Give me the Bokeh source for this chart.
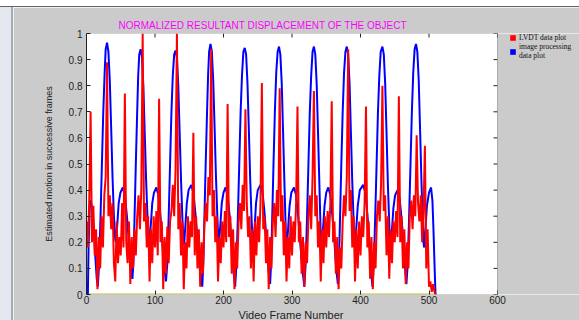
from bokeh.plotting import figure
from bokeh.models import Range1d, FixedTicker, Legend, LegendItem, BoxAnnotation, Title, Spacer
from bokeh.layouts import column, row
from bokeh.embed import file_html
from bokeh.resources import INLINE

title_text = "NORMALIZED RESULTANT DISPLACEMENT OF THE OBJECT"
x_label = "Video Frame Number"
y_label = "Estimated motion in successive frames"
series_names = ["LVDT data plot", "image processing\ndata plot"]

x_ticks = [0, 100, 200, 300, 400, 500, 600]
y_ticks = [0, 0.1, 0.2, 0.3, 0.4, 0.5, 0.6, 0.7, 0.8, 0.9, 1]
y_tick_labels = ["0", "0.1", "0.2", "0.3", "0.4", "0.5", "0.6", "0.7", "0.8", "0.9", "1"]
x_min, x_max = 0, 600
y_min, y_max = 0, 1

# LVDT data (red), one value every 2 frames from frame 0 to 510
lvdt_frames = list(range(0, 512, 2))
lvdt_values = [
    0.28, 0.18, 0.36, 0.70, 0.20, 0.34, 0.15, 0.25, 0.02, 0.22,
    0.10, 0.30, 0.18, 0.38, 0.45, 0.89, 0.30, 0.38, 0.25, 0.35,
    0.12, 0.05, 0.28, 0.12, 0.22, 0.15, 0.35, 0.18, 0.77, 0.20,
    0.12, 0.28, 0.04, 0.22, 0.10, 0.25, 0.15, 0.30, 0.38, 0.25,
    0.40, 1.00, 0.28, 0.35, 0.18, 0.30, 0.05, 0.25, 0.12, 0.30,
    0.18, 0.32, 0.15, 0.75, 0.20, 0.28, 0.02, 0.22, 0.08, 0.26,
    0.12, 0.28, 0.32, 0.42, 0.30, 0.48, 1.00, 0.25, 0.35, 0.15,
    0.28, 0.02, 0.20, 0.10, 0.30, 0.18, 0.28, 0.22, 0.62, 0.15,
    0.30, 0.10, 0.25, 0.03, 0.20, 0.08, 0.26, 0.35, 0.28, 0.45,
    0.38, 0.94, 0.30, 0.40, 0.20, 0.30, 0.05, 0.22, 0.12, 0.28,
    0.18, 0.32, 0.20, 0.73, 0.22, 0.30, 0.08, 0.25, 0.02, 0.20,
    0.10, 0.28, 0.35, 0.25, 0.42, 0.32, 0.71, 0.35, 0.22, 0.30,
    0.10, 0.25, 0.05, 0.28, 0.15, 0.30, 0.20, 0.35, 0.81, 0.25,
    0.30, 0.12, 0.25, 0.02, 0.22, 0.10, 0.28, 0.35, 0.22, 0.40,
    0.30, 0.79, 0.28, 0.38, 0.15, 0.28, 0.05, 0.22, 0.10, 0.30,
    0.15, 0.28, 0.20, 0.35, 0.72, 0.20, 0.28, 0.08, 0.22, 0.03,
    0.20, 0.12, 0.30, 0.38, 0.25, 0.45, 0.78, 0.30, 0.38, 0.18,
    0.28, 0.05, 0.25, 0.12, 0.30, 0.18, 0.32, 0.22, 0.35, 0.74,
    0.20, 0.28, 0.08, 0.22, 0.02, 0.18, 0.10, 0.28, 0.38, 0.30,
    0.45, 0.94, 0.32, 0.40, 0.18, 0.30, 0.05, 0.25, 0.10, 0.28,
    0.15, 0.30, 0.22, 0.35, 0.72, 0.18, 0.28, 0.06, 0.22, 0.02,
    0.20, 0.10, 0.30, 0.36, 0.28, 0.42, 0.80, 0.32, 0.38, 0.15,
    0.30, 0.06, 0.25, 0.12, 0.28, 0.20, 0.32, 0.22, 0.76, 0.20,
    0.30, 0.10, 0.25, 0.04, 0.20, 0.10, 0.30, 0.36, 0.25, 0.38,
    0.30, 0.61, 0.35, 0.28, 0.38, 0.20, 0.32, 0.57, 0.10, 0.25,
    0.03, 0.05, 0.01, 0.04, 0.01, 0.00,
]

# image processing data (blue), read at key frames
ip_frames = [
    0, 2, 3, 5, 7, 9, 11, 13, 15, 16.5,
    18.5, 20.5, 22.5, 24.5, 26.5, 28, 30, 32, 34, 36, 38, 40, 42, 43, 45, 47, 49.5, 53, 56, 59, 62, 64.5, 67,
    68.5, 70, 72, 74, 75.5, 77, 79, 81, 83, 85, 87, 89, 91, 92, 94, 96, 98.5, 102, 105, 108, 111, 113.5, 116,
    118, 120, 122, 124, 126, 128, 130, 132, 134, 136, 138, 140, 141.5, 142.5, 144.5, 146.5, 149, 153, 156, 159, 162, 165, 169,
    170.5, 172, 174, 176, 177.5, 179, 181, 183, 185, 187, 189, 191, 192.5, 193.5, 195.5, 197.5, 200, 203, 206, 209, 212, 214.5, 217,
    219, 221, 223, 225, 227, 229, 231, 233, 235, 237, 239, 241, 242.5, 243.5, 245.5, 247.5, 250, 254, 257, 260, 263, 265.5, 268,
    269.5, 271, 273, 275, 277, 279, 281, 283, 285, 287, 289, 290.5, 291.5, 292.5, 294.5, 296.5, 299, 303, 306, 309, 312, 315, 318,
    320, 322, 324, 326, 328, 330, 332, 334, 336, 338, 340, 341.5, 342.5, 343.5, 345.5, 347.5, 350, 353, 356, 359, 362, 364.5, 367,
    368.5, 370, 372, 374, 376, 378, 380, 382, 384, 386, 388, 390, 391, 392, 394, 396, 399, 404, 407, 410, 413, 415, 417.5,
    419.5, 421.5, 423.5, 425.5, 427.5, 429.5, 432, 434, 436, 438, 440, 442, 443, 444, 446, 448, 450.5, 454, 457, 460, 463, 465, 467,
    469, 471, 473, 475, 477, 479, 481, 483, 485, 487, 489, 491, 492, 493, 495, 497, 500, 503, 505, 506.5, 508, 509.5,
]
ip_values = [
    0.0, 0.0, 0.18, 0.36, 0.35, 0.31, 0.24, 0.14, 0.06, 0.03,
    0.12, 0.30, 0.50, 0.70, 0.85, 0.94, 0.965, 0.93, 0.82, 0.64, 0.45, 0.30, 0.21, 0.20, 0.27, 0.35, 0.39, 0.41, 0.38, 0.30, 0.20, 0.11, 0.06,
    0.12, 0.28, 0.50, 0.70, 0.84, 0.92, 0.94, 0.91, 0.80, 0.62, 0.44, 0.30, 0.21, 0.20, 0.27, 0.35, 0.39, 0.41, 0.38, 0.30, 0.19, 0.10, 0.05,
    0.12, 0.30, 0.50, 0.70, 0.84, 0.92, 0.935, 0.91, 0.80, 0.62, 0.44, 0.29, 0.21, 0.19, 0.27, 0.35, 0.40, 0.42, 0.39, 0.31, 0.21, 0.11, 0.03,
    0.12, 0.28, 0.50, 0.70, 0.84, 0.93, 0.96, 0.93, 0.82, 0.64, 0.45, 0.30, 0.21, 0.20, 0.27, 0.35, 0.39, 0.41, 0.38, 0.30, 0.19, 0.09, 0.03,
    0.12, 0.30, 0.50, 0.70, 0.84, 0.93, 0.945, 0.92, 0.81, 0.63, 0.44, 0.29, 0.20, 0.18, 0.26, 0.35, 0.40, 0.42, 0.39, 0.31, 0.20, 0.10, 0.04,
    0.12, 0.28, 0.50, 0.70, 0.85, 0.93, 0.95, 0.92, 0.81, 0.62, 0.42, 0.28, 0.20, 0.18, 0.26, 0.34, 0.39, 0.41, 0.38, 0.30, 0.20, 0.10, 0.03,
    0.12, 0.30, 0.50, 0.70, 0.84, 0.93, 0.95, 0.92, 0.81, 0.62, 0.42, 0.27, 0.19, 0.17, 0.26, 0.34, 0.39, 0.41, 0.38, 0.30, 0.20, 0.10, 0.04,
    0.12, 0.28, 0.50, 0.70, 0.85, 0.93, 0.95, 0.92, 0.81, 0.62, 0.43, 0.28, 0.20, 0.18, 0.26, 0.34, 0.40, 0.42, 0.39, 0.31, 0.20, 0.10, 0.03,
    0.12, 0.30, 0.50, 0.70, 0.84, 0.93, 0.95, 0.92, 0.81, 0.62, 0.42, 0.27, 0.19, 0.17, 0.25, 0.33, 0.38, 0.40, 0.37, 0.29, 0.19, 0.10, 0.04,
    0.12, 0.30, 0.50, 0.70, 0.85, 0.94, 0.96, 0.93, 0.82, 0.63, 0.43, 0.27, 0.20, 0.18, 0.26, 0.34, 0.39, 0.41, 0.36, 0.25, 0.12, 0.0,
]

# zero reference trace (yellow)
base_frames = [0, 510]
base_values = [0, 0]

FONT = "Liberation Sans"
GREY = "#cbcbcb"
INK = "#222222"
TICK_PX = 4

PAGE_W, PAGE_H = 579, 320
TOP_STRIP, LEFT_STRIP = 7, 13     # white band above and pale band left of the grey figure
W, H = PAGE_W - LEFT_STRIP, PAGE_H - TOP_STRIP
ML, MT, MB = 73, 26, 25
BOX_W = 411                       # pixel width of the axes box (0..600)
FRAME_W = W - ML                  # frame runs to the right edge; area past 600 is painted grey
FRAME_H = H - MT - MB
x_view_end = x_max * FRAME_W / BOX_W

p = figure(width=W, height=H, output_backend="svg", toolbar_location=None,
           x_range=Range1d(x_min, x_view_end), y_range=Range1d(y_min, y_max),
           min_border_left=ML, min_border_right=0, min_border_top=MT, min_border_bottom=MB)
p.border_fill_color = GREY
p.background_fill_color = "white"
p.outline_line_color = None
p.xgrid.grid_line_color = None
p.ygrid.grid_line_color = None

p.title.text = title_text
p.title.align = "left"
p.title.offset = 32
p.title.text_color = "#ff00ff"
p.title.text_font = FONT
p.title.text_font_size = "10px"
p.title.text_font_style = "normal"
p.title.standoff = 5

for ax in (p.xaxis, p.yaxis):
    ax.major_tick_in = TICK_PX
    ax.major_tick_out = 0
    ax.minor_tick_line_color = None
    ax.axis_line_color = INK
    ax.major_tick_line_color = INK
    ax.major_label_text_font = FONT
    ax.major_label_text_font_size = "10px"
    ax.major_label_text_color = INK
    ax.axis_label_text_font = FONT
    ax.axis_label_text_color = INK
    ax.axis_label_text_font_style = "normal"

p.xaxis.axis_line_color = None
p.xaxis.ticker = FixedTicker(ticks=x_ticks)
p.yaxis.ticker = FixedTicker(ticks=y_ticks)
p.yaxis.major_label_overrides = {t: s for t, s in zip(y_ticks, y_tick_labels)}
p.yaxis.axis_label = y_label
p.yaxis.axis_label_text_font_size = "9px"
p.xaxis.major_label_standoff = 1
p.yaxis.major_label_standoff = 4
p.yaxis.axis_label_standoff = 12

# x-axis title, centred under the axes box (not under the whole frame)
p.add_layout(Title(text=x_label, align="left", offset=152, text_font=FONT,
                   text_font_size="11px", text_font_style="normal", text_color=INK,
                   standoff=0), "below")

# the data lines
p.line(base_frames, base_values, line_color="#e2dc8c", line_width=3)
r_blue = p.line(ip_frames, ip_values, line_color="#0000ff", line_width=2)
r_red = p.line(lvdt_frames, lvdt_values, line_color="#ff0000", line_width=2)

# grey figure background to the right of the axes box, and the box outline
p.add_layout(BoxAnnotation(left=x_max, fill_color=GREY, fill_alpha=1.0, line_color=None))
p.add_layout(BoxAnnotation(left=x_min, right=x_max, bottom=y_min, top=y_max,
                           fill_alpha=0.0, line_color=INK, line_width=1))

# inward ticks on the top and right edges of the box
dx = TICK_PX * x_max / BOX_W
dy = TICK_PX * (y_max - y_min) / FRAME_H
p.segment(x0=x_ticks, x1=x_ticks, y0=[y_max] * len(x_ticks), y1=[y_max - dy] * len(x_ticks),
          line_color=INK, line_width=1)
p.segment(x0=[x_max] * len(y_ticks), x1=[x_max - dx] * len(y_ticks), y0=y_ticks, y1=y_ticks,
          line_color=INK, line_width=1)

# legend keys: zero-area quads at each series' first point (invisible in the plot)
key_red = p.quad(left=lvdt_frames[:1], right=lvdt_frames[:1], bottom=lvdt_values[:1], top=lvdt_values[:1],
                 fill_color="#ff0000", line_color=None)
key_blue = p.quad(left=ip_frames[:1], right=ip_frames[:1], bottom=ip_values[:1], top=ip_values[:1],
                  fill_color="#0000ff", line_color=None)

legend = Legend(items=[LegendItem(label=series_names[0], renderers=[key_red]),
                       LegendItem(label=series_names[1], renderers=[key_blue])],
                location=(423, 234), orientation="vertical",
                label_text_font="Liberation Serif", label_text_font_size="7.5px",
                label_text_color="#111111", glyph_width=7, glyph_height=7,
                label_standoff=3, label_height=7, spacing=0, padding=0, margin=0,
                border_line_color=None, background_fill_alpha=0)
p.add_layout(legend, "center")

top_band = Spacer(width=PAGE_W, height=TOP_STRIP,
                  styles={"background": "linear-gradient(to bottom, #ffffff 0px, #ffffff 6px, #5f656e 6px, #5f656e 7px)"})
left_band = Spacer(width=LEFT_STRIP, height=H,
                   styles={"background": "linear-gradient(to right, #e4e9ef 0px, #e4e9ef 11px, #a3acb6 11px, #a3acb6 13px)"})
page = column(top_band, row(left_band, p, spacing=0), spacing=0)

open("out.html", "w").write(file_html(page, INLINE))
